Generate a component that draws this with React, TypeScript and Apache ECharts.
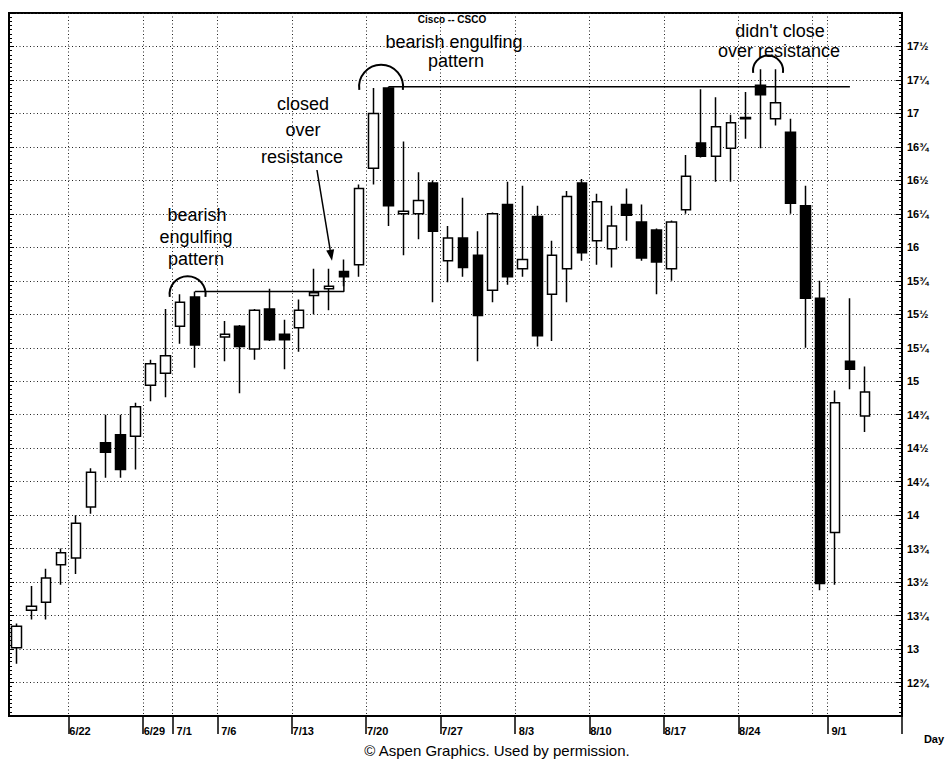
import React, { useEffect, useRef } from "react";
import * as echarts from "echarts";

// Trading-day slots (holidays keep an empty slot, as in the original chart)
const dates = [
  "6/16", "6/17", "6/18", "6/19", "6/22", "6/23", "6/24", "6/25", "6/26", "6/29", "6/30",
  "7/1", "7/2", "7/3", "7/6", "7/7", "7/8", "7/9", "7/10", "7/13", "7/14", "7/15", "7/16", "7/17",
  "7/20", "7/21", "7/22", "7/23", "7/24", "7/27", "7/28", "7/29", "7/30", "7/31",
  "8/3", "8/4", "8/5", "8/6", "8/7", "8/10", "8/11", "8/12", "8/13", "8/14",
  "8/17", "8/18", "8/19", "8/20", "8/21", "8/24", "8/25", "8/26", "8/27", "8/28", "8/31",
  "9/1", "9/2", "9/3", "9/4", "9/7",
];

const opens: (number | null)[] = [
  13.01, 13.29, 13.35, 13.63, 13.68, 14.06, 14.54, 14.6, 14.59, 14.97, 15.06,
  15.41, 15.63, null, 15.33, 15.41, 15.24, 15.54, 15.35, 15.4, 15.64, 15.69, 15.82, 15.87,
  16.59, 17.19, 16.25, 16.25, 16.48, 15.9, 16.07, 15.94, 15.68, 16.32,
  15.84, 16.23, 15.65, 15.84, 16.48, 16.05, 15.99, 16.32, 16.19, 16.13,
  15.84, 16.28, 16.78, 16.68, 16.74, 16.97, 17.21, 16.96, 16.86, 16.31, 15.62,
  13.87, 15.15, 14.74, null, null,
];
const closes: (number | null)[] = [
  13.17, 13.32, 13.53, 13.72, 13.94, 14.32, 14.47, 14.34, 14.81, 15.13, 15.19,
  15.59, 15.27, null, 15.35, 15.26, 15.53, 15.31, 15.31, 15.53, 15.66, 15.71, 15.78, 16.44,
  17.0, 16.31, 16.27, 16.35, 16.12, 16.07, 15.85, 15.49, 16.25, 15.78,
  15.91, 15.34, 15.94, 16.38, 15.96, 16.34, 16.16, 16.24, 15.92, 15.89,
  16.19, 16.53, 16.68, 16.9, 16.93, 16.96, 17.14, 17.08, 16.33, 15.62, 13.49,
  14.84, 15.09, 14.92, null, null,
];
const lows: (number | null)[] = [
  12.89, 13.22, 13.22, 13.48, 13.56, 14.01, 14.28, 14.28, 14.34, 14.85, 14.88,
  15.28, 15.1, null, 15.15, 14.91, 15.16, 15.3, 15.09, 15.22, 15.5, 15.53, 15.71, 15.78,
  16.47, 16.16, 15.94, 16.06, 15.59, 15.74, 15.78, 15.15, 15.59, 15.72,
  15.78, 15.26, 15.3, 15.59, 15.9, 15.87, 15.85, 16.05, 15.9, 15.65,
  15.75, 16.25, 16.67, 16.49, 16.49, 16.81, 16.74, 16.91, 16.25, 15.25, 13.44,
  13.48, 14.94, 14.62, null, null,
];
const highs: (number | null)[] = [
  13.19, 13.47, 13.6, 13.75, 14.0, 14.35, 14.75, 14.75, 14.84, 15.16, 15.54,
  15.65, 15.67, null, 15.45, 15.42, 15.54, 15.69, 15.46, 15.61, 15.84, 15.84, 15.91, 16.47,
  17.19, 17.2, 16.79, 16.56, 16.5, 16.16, 16.37, 16.12, 16.26, 16.49,
  16.46, 16.31, 16.05, 16.42, 16.51, 16.4, 16.31, 16.44, 16.32, 16.14,
  16.2, 16.69, 17.18, 17.12, 16.99, 17.16, 17.33, 17.33, 16.96, 16.46, 15.75,
  14.93, 15.62, 15.11, null, null,
];

const labeledDates = ["6/22", "6/29", "7/1", "7/6", "7/13", "7/20", "7/27", "8/3", "8/10", "8/17", "8/24", "9/1"];
const gridDates = ["6/22", "6/29", "7/1", "7/6", "7/13", "7/20", "7/27", "8/3", "8/10", "8/17", "8/24", "8/31", "9/1"];

const firstResistance: [string, number][] = [["7/2", 15.67], ["7/16", 15.67], ["7/16", 15.8]];
const topResistance: [string, number][] = [["7/21", 17.2], ["9/2", 17.2]];

const yMin = 12.5;
const yMax = 17.75;
const yStep = 0.25;

const FONT = "'Liberation Sans', Arial, Helvetica, sans-serif";
const NARROW = "'Liberation Sans Narrow', 'Arial Narrow', 'Liberation Sans', Arial, sans-serif";

function fracLabel(v: number): string {
  if (v <= yMin + 1e-6 || v >= yMax - 1e-6) return "";
  const whole = Math.floor(v + 1e-6);
  const f = Math.round((v - whole) * 4);
  return String(whole) + ["", "¼", "½", "¾"][f];
}

export default function App() {
  const ref = useRef<HTMLDivElement>(null);

  useEffect(() => {
    const el = ref.current;
    if (!el) return;
    const chart = echarts.init(el, null, { renderer: "svg" });
    const labelSet = new Set(labeledDates);
    const gridSet = new Set(gridDates);

    const candleData = dates.map((_, i) =>
      opens[i] == null ? ["-", "-", "-", "-"] : [opens[i], closes[i], lows[i], highs[i]]
    );

    const dotted = { color: "#222", width: 1, type: [1, 2.5] as number[] };

    const option: any = {
      animation: false,
      backgroundColor: "#fff",
      grid: {
        left: 9,
        right: 45,
        top: 13,
        bottom: 46,
        show: true,
        borderColor: "#000",
        borderWidth: 2,
      },
      xAxis: {
        type: "category",
        data: dates,
        boundaryGap: true,
        axisLine: { lineStyle: { color: "#000", width: 2 } },
        axisTick: {
          show: true,
          interval: (_i: number, v: string) => labelSet.has(v),
          length: 18,
          lineStyle: { color: "#000", width: 1.5 },
        },
        axisLabel: {
          interval: (_i: number, v: string) => labelSet.has(v),
          formatter: (v: string) => `{s|}{t|${v}}`,
          margin: 9,
          rich: {
            s: { width: 8 },
            t: { fontFamily: NARROW, fontWeight: "bold", fontSize: 11, color: "#000" },
          },
        },
        splitLine: {
          show: true,
          interval: (_i: number, v: string) => gridSet.has(v),
          lineStyle: dotted,
        },
      },
      yAxis: [
        {
          type: "value",
          position: "right",
          min: yMin,
          max: yMax,
          interval: yStep,
          axisLine: { show: true, lineStyle: { color: "#000", width: 2 } },
          axisTick: { show: true, inside: true, length: 6, lineStyle: { color: "#000", width: 1 } },
          minorTick: { show: true, splitNumber: 8, length: 3, lineStyle: { color: "#000", width: 1 } },
          axisLabel: {
            formatter: (v: number) => fracLabel(v),
            fontFamily: NARROW,
            fontWeight: "bold",
            fontSize: 11,
            color: "#000",
            margin: 5,
          },
          splitLine: { show: true, lineStyle: dotted },
        },
        {
          type: "value",
          position: "left",
          min: yMin,
          max: yMax,
          interval: yStep,
          axisLine: { show: true, lineStyle: { color: "#000", width: 2 } },
          axisTick: { show: true, inside: true, length: 5, lineStyle: { color: "#000", width: 1 } },
          minorTick: { show: true, splitNumber: 8, length: 3, lineStyle: { color: "#000", width: 1 } },
          axisLabel: { show: false },
          splitLine: { show: false },
        },
      ],
      series: [
        {
          type: "candlestick",
          name: "CSCO",
          data: candleData,
          barWidth: 10,
          itemStyle: {
            color: "#fff",
            color0: "#000",
            borderColor: "#000",
            borderColor0: "#000",
            borderWidth: 1.5,
          },
          z: 3,
        },
        {
          type: "line",
          data: firstResistance,
          symbol: "none",
          lineStyle: { color: "#000", width: 1.5 },
          z: 4,
        },
        {
          type: "line",
          data: topResistance,
          symbol: "none",
          lineStyle: { color: "#000", width: 1.5 },
          z: 4,
        },
      ],
    };

    chart.setOption(option);

    const toPx = (cat: string, v: number): number[] =>
      chart.convertToPixel({ xAxisIndex: 0, yAxisIndex: 0 }, [cat, v]) as number[];
    const midPx = (a: string, b: string, v: number): number[] => {
      const p = toPx(a, v);
      const q = toPx(b, v);
      return [(p[0] + q[0]) / 2, p[1]];
    };

    const arc = (c: number[], r: number) => ({
      type: "arc",
      shape: { cx: c[0], cy: c[1], r, startAngle: Math.PI - 0.15, endAngle: 2 * Math.PI + 0.15, clockwise: true },
      style: { stroke: "#000", fill: "none", lineWidth: 2 },
      z: 10,
    });

    const txt = (text: string, x: number, y: number, size: number, weight = "normal", family = FONT) => ({
      type: "text",
      x,
      y,
      style: {
        text,
        fill: "#000",
        font: `${weight} ${size}px ${family}`,
        align: "center",
        verticalAlign: "middle",
      },
      z: 10,
    });

    const tipA = toPx("7/15", 15.9);
    const tipB = toPx("7/16", 15.9);
    const tip = [tipA[0] + (tipB[0] - tipA[0]) * 0.2, tipA[1]];
    const start = [tip[0] - 15, 170];
    const ang = Math.atan2(tip[1] - start[1], tip[0] - start[0]);
    const hl = 11;
    const hw = 4;
    const base = [tip[0] - hl * Math.cos(ang), tip[1] - hl * Math.sin(ang)];
    const head = [
      tip,
      [base[0] + hw * Math.sin(ang), base[1] - hw * Math.cos(ang)],
      [base[0] - hw * Math.sin(ang), base[1] + hw * Math.cos(ang)],
    ];

    chart.setOption({
      graphic: [
        arc(midPx("7/1", "7/2", 15.65), 18),
        arc(midPx("7/20", "7/21", 17.2), 22),
        arc(midPx("8/25", "8/26", 17.32), 15),
        {
          type: "line",
          shape: { x1: start[0], y1: start[1], x2: base[0], y2: base[1] },
          style: { stroke: "#000", lineWidth: 1.5 },
          z: 10,
        },
        { type: "polygon", shape: { points: head }, style: { fill: "#000" }, z: 10 },
        txt("Cisco -- CSCO", 452, 19, 10, "bold"),
        txt("bearish engulfing", 454, 42, 18),
        txt("pattern", 456, 61, 18),
        txt("bearish", 197, 215, 18),
        txt("engulfing", 196, 237, 18),
        txt("pattern", 196, 259, 18),
        txt("closed", 303, 104, 18),
        txt("over", 303, 130, 18),
        txt("resistance", 302, 157, 18),
        txt("didn't close", 780, 31, 18),
        txt("over resistance", 779, 51, 18),
        txt("Day", 934, 739, 11, "bold", NARROW),
        txt("© Aspen Graphics. Used by permission.", 497, 750, 15),
      ],
    });

    return () => {
      chart.dispose();
    };
  }, []);

  return (
    <div
      ref={ref}
      style={{ position: "fixed", left: 0, top: 0, width: 947, height: 762, background: "#fff" }}
    />
  );
}
